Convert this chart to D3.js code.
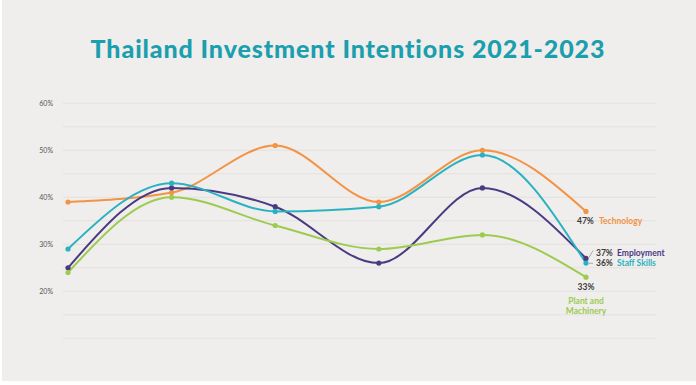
<!DOCTYPE html>
<html>
<head>
<meta charset="utf-8">
<script src="https://cdn.jsdelivr.net/npm/d3@7"></script>
<style>
  body { margin: 0; background: #fff; }
  svg { display: block; font-family: Lato, "Open Sans", sans-serif; }
</style>
</head>
<body>
<div id="chart"></div>
<script>
// survey waves (no labels shown on the original)
let periods = ["W1", "W2", "W3", "W4", "W5", "W6"];

let technology  = [39, 41, 51, 39, 50, 37];
let employment  = [25, 42, 38, 26, 42, 27];
let staffSkills = [29, 43, 37, 38, 49, 26];
let plant       = [24, 40, 34, 29, 32, 23];

// labels as printed at the end of each line
let endLabels = ["47%", "37%", "36%", "33%"];

let yTicks = [20, 30, 40, 50, 60];
let gridTicks = [10, 15, 20, 25, 30, 35, 40, 45, 50, 55, 60];

let width = 696, height = 385;

let colors = {
    "Technology": '#f39343',
    "Employment": '#4b3a82',
    "Staff Skills": '#2bb2c1',
    "Plant and Machinery": '#9ccb50'
};

let series = [
    { name: "Technology", values: technology, label: endLabels[0] },
    { name: "Employment", values: employment, label: endLabels[1] },
    { name: "Staff Skills", values: staffSkills, label: endLabels[2] },
    { name: "Plant and Machinery", values: plant, label: endLabels[3] }
];

let xScale = d3.scalePoint()
    .domain(periods)
    .range([68, 586]);

let yScale = d3.scaleLinear()
    .domain([10, 60])
    .range([338.3, 103.3]);

let svg = d3.select("#chart")
    .append("svg")
    .attr("width", width)
    .attr("height", height);

// background panel
svg.append("rect")
    .attr("x", 2)
    .attr("y", 0)
    .attr("width", width - 2)
    .attr("height", 381)
    .attr("fill", "#efeeec");

// title
svg.append("text")
    .attr("x", 348)
    .attr("y", 58)
    .attr("text-anchor", "middle")
    .attr("fill", "#1b9fae")
    .style("font-size", "25px")
    .style("font-weight", "900")
    .style("letter-spacing", "0.9px")
    .text("Thailand Investment Intentions 2021-2023");

// grid lines
svg.append("g")
    .selectAll("line")
    .data(gridTicks)
    .join("line")
    .attr("x1", 63)
    .attr("x2", 656)
    .attr("y1", d => yScale(d))
    .attr("y2", d => yScale(d))
    .attr("stroke", "#e3e1df")
    .attr("stroke-width", 1);

// y axis labels
let yAxis = svg.append("g")
    .attr("transform", "translate(53,0)")
    .call(d3.axisLeft(yScale).tickValues(yTicks).tickSize(0).tickFormat(d => d + "%"));
yAxis.select(".domain").remove();
yAxis.selectAll("text")
    .attr("x", 0)
    .attr("fill", "#555")
    .style("font-size", "7px")
    .style("font-family", "Lato, sans-serif");

let line = d3.line()
    .x((d, i) => xScale(periods[i]))
    .y(d => yScale(d))
    .curve(d3.curveMonotoneX);

let lines = svg.append("g");
series.forEach(s => {
    lines.append("path")
        .attr("d", line(s.values))
        .attr("fill", "none")
        .attr("stroke", colors[s.name])
        .attr("stroke-width", 2);
});

let dots = svg.append("g");
series.forEach(s => {
    dots.selectAll(null)
        .data(s.values)
        .join("circle")
        .attr("cx", (d, i) => xScale(periods[i]))
        .attr("cy", d => yScale(d))
        .attr("r", 2.6)
        .attr("fill", colors[s.name]);
});

// end labels
let lastX = xScale(periods[periods.length - 1]);
let labels = svg.append("g")
    .style("font-size", "8.5px")
    .style("font-weight", "700");

// Technology
labels.append("text")
    .attr("x", lastX - 9)
    .attr("y", 224)
    .attr("fill", "#3a3a3a")
    .text(series[0].label);
labels.append("text")
    .attr("x", lastX + 13)
    .attr("y", 224)
    .attr("fill", colors["Technology"])
    .text("Technology");

// Employment + Staff Skills
labels.append("text")
    .attr("x", lastX + 10)
    .attr("y", 255.7)
    .attr("fill", "#3a3a3a")
    .text(series[1].label);
labels.append("text")
    .attr("x", lastX + 31)
    .attr("y", 255.7)
    .attr("fill", colors["Employment"])
    .text("Employment");
labels.append("text")
    .attr("x", lastX + 10)
    .attr("y", 266.3)
    .attr("fill", "#3a3a3a")
    .text(series[2].label);
labels.append("text")
    .attr("x", lastX + 31)
    .attr("y", 266.3)
    .attr("fill", colors["Staff Skills"])
    .text("Staff Skills");

// small leader lines
labels.append("line")
    .attr("x1", lastX + 3).attr("y1", yScale(employment[5]) - 1)
    .attr("x2", lastX + 7).attr("y2", 250.5)
    .attr("stroke", "#999").attr("stroke-width", 0.8);
labels.append("line")
    .attr("x1", lastX + 3).attr("y1", 263.3)
    .attr("x2", lastX + 7).attr("y2", 263.3)
    .attr("stroke", "#999").attr("stroke-width", 0.8);

// Plant and Machinery
labels.append("text")
    .attr("x", lastX)
    .attr("y", 290)
    .attr("text-anchor", "middle")
    .attr("fill", "#3a3a3a")
    .text(series[3].label);
labels.append("text")
    .attr("x", lastX)
    .attr("y", 304)
    .attr("text-anchor", "middle")
    .attr("fill", colors["Plant and Machinery"])
    .text("Plant and");
labels.append("text")
    .attr("x", lastX)
    .attr("y", 313.5)
    .attr("text-anchor", "middle")
    .attr("fill", colors["Plant and Machinery"])
    .text("Machinery");
</script>
</body>
</html>
